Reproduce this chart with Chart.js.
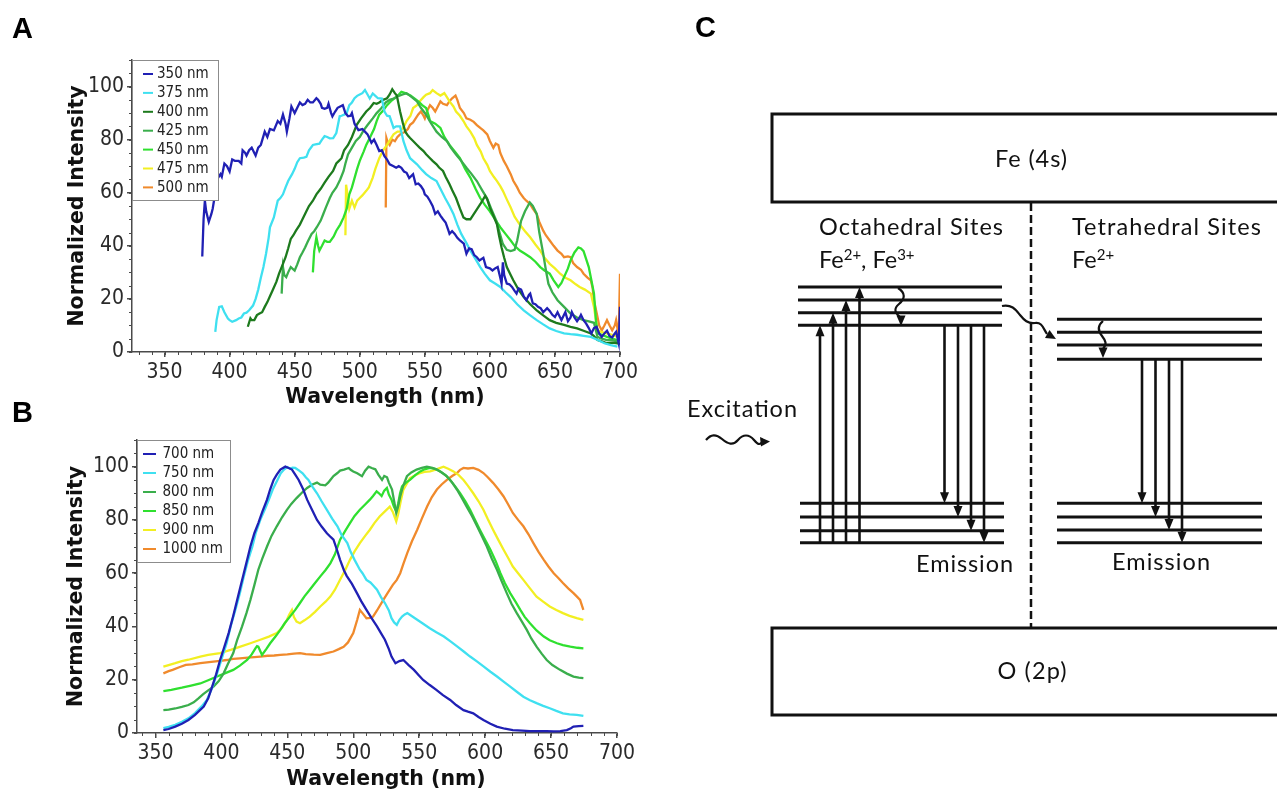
<!DOCTYPE html>
<html>
<head>
<meta charset="utf-8">
<script src="https://cdn.jsdelivr.net/npm/chart.js@4.4.1/dist/chart.umd.min.js"></script>
<style>
html, body { margin: 0; padding: 0; background: #fff; overflow: hidden; }
#page { position: relative; width: 1277px; height: 791px; }
canvas { position: absolute; left: 0; }
#chartA { top: 0; }
#chartB { top: 420px; }
#diagram { position: absolute; left: 0; top: 0; }
</style>
</head>
<body>
<div id="page">
  <canvas id="chartA" width="660" height="410"></canvas>
  <canvas id="chartB" width="660" height="372"></canvas>
  <svg id="diagram" width="1277" height="791"></svg>
</div>
<script>
// ---- Panel A: emission spectra for each excitation wavelength ----
const labelsA = ['350 nm', '375 nm', '400 nm', '425 nm', '450 nm', '475 nm', '500 nm'];
const xTicksA = [350, 400, 450, 500, 550, 600, 650, 700];
const yTicks = [0, 20, 40, 60, 80, 100];

const excA350 = [[379,36],[380,50],[381,57],[382,53],[384,49],[386,52],[387,54],[389,60],[391,65.5],[393,67],[394,66],[396,71],[398,70],[400,68],[402,72.5],[404,72],[407,72],[409,71],[410,76],[412,75],[413,74],[415,76],[417,77],[419,75],[420,74],[422,77],[424,78],[427,83],[429,81],[431,84],[434,83.5],[437,87],[439,86],[441,89.5],[443,86],[444,83],[446,88],[447.5,92.5],[449,91],[450,90],[452,92],[454,94],[456,93],[458,93.5],[460,95],[462,94],[464,94],[466.7,95.6],[468,95],[470,93.5],[471,92],[473,91.6],[475,92],[476,93.5],[478,90],[479,88.8],[481,90.5],[483,92],[485,92.5],[487,93],[489,90],[491,88.8],[493,89],[494,90],[496,86],[499,83.6],[502,84],[504,83],[506,82],[509,78.8],[511,80],[513,78],[515,75.7],[517,76],[519,73.8],[521,72.5],[523,70.7],[526,70],[528,69.4],[530,70],[532,69.4],[534,68],[536,67.5],[538,65.5],[541,67],[543,63.2],[545,63.5],[547,62.5],[549,61],[550,59.4],[552,58.5],[554,56.9],[556,55],[558,52],[560,53],[562,51.4],[564,50],[566,48.8],[568,46],[569,44.5],[571,45.5],[573,44.5],[575,43],[577,42],[580,40.8],[582,37],[584,39],[586,38.7],[588,36.5],[590,35.7],[592,34.5],[595,35.5],[597,32],[600,31.5],[602,30.7],[604,31.5],[606,32],[608,28],[609,25.8],[610,33.8],[611,29],[613,25.8],[615,25.5],[617,24.5],[619,23],[620.5,22],[622,24],[624,23.5],[626,21],[628,19.5],[630,21.5],[631,22],[633,18.3],[635,18],[637,17],[639,16.5],[641,15],[644,16.5],[646,15.5],[648,14],[650,13.2],[652,15],[655,12],[657,14],[658,15],[660,11.6],[662,13],[663,15],[665,13],[667,11.6],[669,13],[670,14],[672,12],[674,10.7],[676,9],[678,7],[680,9],[682,9.5],[684,7],[686,5.7],[688,7],[690,8],[692,6],[694,5.5],[696,7],[697,7.6],[699,3.3],[700,17]];
const excA375 = [[389,7.6],[390,12],[392,17],[394,17.2],[396,15],[398.7,12.6],[400,12],[402,11.4],[405,12],[407,12.6],[409,13],[411,14.5],[413,14.8],[415,15.7],[418,17.5],[420,20],[422,23.5],[424,28],[426,32],[428,37],[430,43],[431,47],[434,50.7],[437,57],[439,58],[441,59.4],[443,62],[445,64.4],[448,67],[450,69],[452,71.5],[454,73],[457,73.2],[459,73.5],[461,76],[464,78],[466,78.2],[469,78.5],[471,80],[473,81.3],[475,81],[477,80.5],[479.6,80.6],[482,82.5],[484.6,88.8],[486,89],[488,89.4],[490,90],[492,93],[494,94],[496,95.6],[498,96.5],[500,97],[502,97.5],[504,98.7],[506,97],[507.7,95.5],[510,97.4],[512,96.5],[514,95.6],[517,95.5],[519,90.6],[521,89],[523,88.8],[526,84.4],[528,85],[531,85],[533.6,79.4],[536,76],[538.7,73],[541,72],[544,70.7],[548,68.5],[551,67],[555,65.5],[559,64.4],[562,61.5],[565.6,58],[569,55],[572,52],[575,48],[578,44.5],[582,41],[585,38.2],[589,35],[592.6,32],[596,29.5],[600,27],[604,25.8],[608,24.5],[612,22.5],[616,20.7],[621,18],[626,15.7],[631,13.8],[636,12],[641,10.4],[646,8.9],[651,7.9],[657,7],[662,6.7],[667,6.5],[672,6.1],[677.6,5.7],[683,4.5],[688,3.3],[693,2.6],[698,2]];
const excA400 = [[414,9.5],[416,12.7],[417,12],[419,12],[421,13.9],[423,14.5],[425,15],[427,17],[429,18.8],[431,21],[433,23.2],[436,26.5],[438,29.5],[440,32],[443,35.7],[445,39],[447,42.6],[449,44],[451,45.7],[454,48],[456,50],[459,53],[461,55],[464,57],[466.7,59.4],[470,61.5],[473,63.8],[476,66],[479.5,68.2],[482,71],[484,72],[486,73],[488,76],[491,78],[494,81],[497.7,85.6],[501,88],[505,90.6],[508,92],[510.7,93.8],[513,93.5],[515,94],[518,95],[521,95.6],[523,97],[525,99],[527,97.5],[528.5,96.6],[530,93],[531,90.6],[533,86.5],[535,83],[537,81.5],[538.7,80.6],[541,79.5],[544,78],[546,77],[549,75.7],[551,74.5],[554,73],[556,72],[559,70.7],[561,69.5],[564,68.2],[566,66],[569,63.2],[571,61],[574,58],[577,54],[579.7,50.7],[582,50],[585,50],[587,51.5],[590,53.7],[593,56],[596.4,58.8],[598,57.5],[600,54.4],[603,51],[605.5,48],[607,44],[609,39.4],[611,35.5],[613,32],[616,29],[618,27],[622,23.5],[626,20.7],[631,18],[636,15.7],[641,13.8],[646,12],[651,11],[657,10.2],[662,9.5],[667,8.9],[672,8],[677.6,7],[680,6],[682.7,4.5],[686,4],[690,3.3],[694,3.5],[698,3.3],[700,3]];
const excA425 = [[440,22],[441,32],[442,29],[443.5,28.2],[445,30],[447,32],[450,30.7],[452,33],[454,35.7],[456,37.5],[458,39.4],[460,41.5],[463,44.5],[465,45.5],[467,47],[470,49.5],[472,52],[474,54.5],[477,58],[479,60],[482,62],[485,65],[487.6,68.2],[489,71],[491,74.4],[494,77],[497,79.5],[500,81],[503,83.5],[506,85.5],[510,88],[513,90],[516,91.5],[520,94],[523,95],[526,95.5],[530,96.5],[533,97],[536,97.5],[540,96],[544,94.4],[547,92],[551,89.4],[555,86],[559,83],[563,81],[567,79.4],[570,77],[574,74.4],[578,72],[582,69.4],[586,67],[590,64.4],[594,61],[597.7,58],[601,54],[605,49.4],[608,44],[610,40.7],[613,38.5],[616,38],[619,38.5],[621,42],[624,49.4],[627,53],[630.7,56.3],[633,55],[636,52],[638,45],[641,37],[643,31],[645,25.7],[648,22.5],[652,19.5],[657,17],[662,14.5],[667,13],[672,12],[676,11.5],[680,11],[682.7,5.7],[686,5],[690,4.5],[694,4.5],[698,4],[700,5]];
const excA450 = [[464,30],[465,38],[466.7,43.2],[468,40],[469,38.2],[471,40],[473,42],[475,41.5],[477,41.5],[480,43.5],[482,45.7],[485,48],[487.6,50.7],[490,54],[492,59.4],[494,62],[496,65.5],[498,69],[500,72],[503,75.5],[505,78],[507.7,80.6],[511,84],[513,87],[515,89.4],[518,91],[521,93],[524,94.5],[527,95.6],[530,97],[532,98],[535,97.5],[539,96.6],[542,95.5],[545,94.4],[548,93],[551,91.9],[553,89],[554,87],[558,86],[562,84.4],[565,81],[569,78],[573,75.5],[577,73],[581,69],[585,65.7],[589,61.5],[592.6,58],[596,55.5],[600,53],[604,50],[608,47],[612,44.5],[616,42],[619,40],[623,38.2],[627,37],[631,35.7],[635,34],[638.7,32],[642,30.7],[646,29.5],[649,27],[652.6,24.5],[655,26],[657,28.2],[660,31.5],[662,34.5],[665,37.5],[668,39.4],[670,39],[672,38],[674,35],[676,32],[678,27],[680,22],[681.5,12],[682.7,7],[686,6.5],[690,5.7],[694,5],[698,4.5],[700,4.5]];
const excA475 = [[489,44],[489.5,63],[491,58],[492,54],[494,57],[496,54.4],[498,57],[500,58],[502,59],[505,60.7],[507,62],[510,65.7],[512,69],[515,73],[518,76],[521,78],[524,80.5],[526,82],[529,83],[531,83],[534,85],[536,87],[539,89],[541,91.9],[544,93],[546,94.4],[549,96],[551,96.9],[554,97.5],[556,98.7],[559,97.5],[562,96.6],[565,97.5],[567,96],[569,94.4],[572,92.5],[574,90.6],[577,89],[579.7,87],[582,85],[585,83],[588,80.5],[590,78],[593,75.5],[595,73],[598,70.5],[600,68.2],[603,66],[605.5,64.4],[608,62.5],[610,60.7],[613,57.5],[616,54.4],[619,51],[623,48],[627,45.5],[631,43.2],[635,40.5],[638.7,38.2],[642,35.5],[646,33.2],[650,31.5],[654,29.5],[658,28],[662,27],[666,25.5],[669,24.5],[673,23.5],[677.6,22],[680,17],[681.5,12],[682.7,8.2],[686,7.5],[690,7],[694,6.5],[698,5.7],[700,6]];
const excA500 = [[520,54.4],[520.5,80.6],[521.5,79],[523,78],[525,80],[527,79.4],[529,81],[531,82],[533,82.5],[535,83],[537,84],[538.7,85.6],[541,86.5],[543,88],[545,89.5],[547,90.6],[549,89],[550,88],[552,91],[554,93],[556,92],[558,90.6],[560,92.5],[562,94.4],[564,93.5],[567,93],[569,94.5],[571,95.6],[573.6,96.6],[575,95],[577,91.9],[580,90],[582,88],[585,87.5],[587.6,86.7],[590,85.5],[592.6,84.4],[595,83.5],[598,82],[600,79.5],[602.7,76.9],[604.5,78.5],[606.5,78],[608,75],[610.7,72],[613,70],[616,67],[618,64.5],[621,62],[623,60],[626,58],[628,57],[631,55.7],[633,54],[636,52],[638,49],[641,45.7],[643,44],[646,42],[649,40],[652,38.2],[655,37],[657,35.7],[660,36],[662,35.7],[664,33.5],[667,32],[670,31],[672,29.5],[675,28],[677.6,27],[679,24],[680,19.5],[682.7,13.2],[684,10],[686,8.2],[688,10],[690,12],[692,10],[694,8.2],[696,10],[697,12],[698,9],[699,5.7],[700,29.5]];

// ---- Panel B ----
const labelsB = ['700 nm', '750 nm', '800 nm', '850 nm', '900 nm', '1000 nm'];
const xTicksB = [350, 400, 450, 500, 550, 600, 650, 700];

const emB700 = [[356,1.1],[360,1.5],[365,2.4],[370,3.5],[375,4.9],[380,6.8],[386.6,9.9],[390,13],[393,17.4],[396,22],[399,27.4],[402,32],[405.5,37.5],[409,44],[412,50],[415,56],[417,60],[420,66],[422,70],[425,75],[428,78.8],[431,83],[434.6,87.6],[437,91.5],[439.6,95],[442,97],[444.7,98.9],[448.5,100],[451,99.5],[453.5,98.9],[456,97],[458.6,95],[462,91.5],[465,87.6],[469,83.5],[472.5,80],[476,77.5],[480,75],[483,73.5],[485,72.6],[487.6,68.8],[490,65],[493,61],[495,59],[499,56],[502.8,52.5],[506,49.5],[510,46.2],[514,43],[518,40],[521,37.5],[524,35],[527,31.5],[529,28.7],[532,26.2],[535,27],[538,27.4],[542,25.5],[546,23.7],[550,21.5],[553,19.9],[558,18],[563,16.2],[568,14.2],[573.5,12.4],[578,10.5],[583.6,8.6],[587,8],[591,7.4],[595,6],[598.7,4.9],[604,3.5],[608.8,2.4],[615,1.6],[621,1.1],[628,0.9],[634,0.7],[640,0.7],[646.7,0.7],[652,0.6],[657,0.7],[662,1.1],[665,1.8],[667,2.4],[671,2.6],[674.5,2.7]];
const emB750 = [[356,1.8],[360,2.3],[365,3.1],[370,4.2],[375,5.5],[380,7.5],[385,10],[389,12.4],[393,17],[396.7,22.4],[400,27.5],[404,33.7],[407,40],[410.6,46.2],[414,52.5],[417,58.8],[420,64.5],[423.5,70],[426,75],[429.5,80],[433,84],[436,87.6],[439,91.5],[442.5,95],[445,97.5],[447.5,98.9],[450,99.8],[452,99.3],[454,99.6],[456,99.5],[459,98.5],[461.6,97.5],[464,96],[466,95],[469,92.5],[472.5,90],[476,87],[480,83.8],[484,80.5],[488,77.6],[491,74.5],[495.5,71.3],[498,68],[501,65],[505,61.3],[507,60],[510,57.5],[513,56.5],[515,55.5],[518,53.8],[521,51],[524,48.8],[527,46],[529,43.1],[531,41.5],[533,40.6],[535,42.5],[537,43.7],[539,44.5],[541,45],[544,44],[548.5,42.5],[553,41],[558,39.3],[563,37.8],[568.7,36.2],[574,34.3],[579,32.4],[584,30.5],[588.6,28.7],[594,26.8],[599,24.9],[604,23],[609,21.2],[614,19.3],[619,17.4],[624,15.5],[629,13.6],[634,12.3],[639,11.2],[644,10.2],[649,9.3],[654,8.3],[659,7.4],[664,7],[669.5,6.8],[674.5,6.4]];
const emB800 = [[356,8.6],[360,8.8],[365,9.2],[370,9.8],[375,10.5],[379,11.5],[382.6,13],[386,14.5],[390,16],[394,17.4],[398,19.5],[401.7,22.4],[405,26],[409,30],[412,35],[415.7,40],[419,45],[422,50],[425,55.5],[428,61.3],[431,65.5],[434.6,70],[438,74],[442,77.6],[446,81],[449.7,83.8],[453,86],[457,88.2],[461,90.2],[465,92],[469,93.3],[472.5,94],[475,93.2],[478.8,93],[481,94],[482.6,95],[485,96.5],[488,97.6],[490,98.5],[493,98.9],[496.6,99.5],[498,98.8],[500,98.2],[503,97.5],[506.6,96.4],[509,98.5],[511.6,100],[514,99.5],[516.7,99],[519,97],[521.8,95],[523.5,96.5],[525.6,96],[527,94],[529.4,91.4],[531,87],[532.6,82.6],[534,85],[535.6,88.8],[538,93],[540.7,96.4],[544,97.8],[548,98.9],[552,99.5],[555.8,100],[560,99.5],[563.4,98.9],[567,97.8],[571,96.4],[575,94],[578.6,91.4],[582,88.5],[586,85],[590,81.5],[593.9,77.6],[597.5,74],[601.3,70],[605,65.5],[609,61.3],[612.5,57],[616.4,52.5],[620,48.5],[624,45],[628,41.7],[631.6,38.7],[635,35.5],[639,32.4],[643,29.7],[646.7,27.4],[651,25.5],[656.8,23.7],[662,22.3],[667,21.2],[671,20.8],[674.5,20.6]];
const emB850 = [[356,15.7],[362,16.2],[370,17],[377,17.8],[384,18.6],[390,19.8],[396.7,21.2],[403,22.5],[409,23.7],[414,25.3],[419.5,27.4],[423,29.5],[425.8,31.8],[427,32.6],[428,32.4],[430.8,29.3],[434,31.5],[437,33.7],[441,36.2],[444.7,38.7],[448,41.2],[452,43.7],[456,46.2],[459.6,48.8],[463,51.3],[467,53.8],[471,56.3],[475,58.8],[479,61.2],[482.6,63.7],[486,67],[490,72.6],[494,76],[497.5,78.8],[501,81.5],[505,83.8],[509,85.8],[512.6,87.6],[515,89],[517.7,90.7],[519.5,90],[521.5,89],[523.5,91],[525.5,92],[527,89.5],[529,87.6],[530.8,85],[532.6,83.2],[534,86],[535.5,90],[537,92.6],[540,94],[543,95],[547,96.8],[550.8,98.2],[554,99],[558,99.5],[562,99.2],[566,98.2],[570,96.8],[573.5,95],[577,92.8],[581,90],[585,87],[588.6,83.8],[592,80.3],[596,76.3],[600,72.5],[604,68.8],[608,64.5],[611.6,60],[615,56.2],[619,52.5],[623,49.3],[626.7,46.2],[630,43.6],[634,41.2],[639,38.5],[644.5,36.2],[649,34.8],[654.5,33.7],[659,33],[664.6,32.4],[670,32],[674.5,31.8]];
const emB900 = [[356,24.9],[360,25.5],[365,26.2],[370,27],[375,27.5],[384,28.7],[390,29.3],[399,30],[407,31.2],[414.4,32.4],[422,33.7],[429.5,35],[436,36.2],[442,37.5],[446,39.5],[449.7,42.5],[451.5,44.5],[453.5,46.2],[455,43.5],[457,41.8],[459.6,41.2],[463,42.3],[467,43.7],[471,45.5],[475,47.5],[479,49.3],[482.6,51.2],[486,53.7],[490,57.5],[494,61.3],[497.5,65],[501,68.2],[505,71.3],[509,74],[512.6,76.3],[516,78.8],[520,81.3],[524,83.2],[527.7,85],[530,83],[532.6,79.4],[534,82],[536,87],[538,91.4],[540.5,93.5],[543,95.7],[547,96.8],[550.8,97.6],[554,98],[558.3,98.2],[563,99],[568.4,100],[572,99.2],[576,98.2],[580,96.8],[583.6,95],[587,92.8],[591,90],[595,87],[598.7,83.8],[602,80.3],[606,76.3],[610,72.5],[614,68.8],[617.5,65.7],[621,62.5],[625,60],[629,57.5],[634,54.3],[639,51.2],[644,49.3],[649,47.5],[654,46.2],[659,45],[664,44],[669.5,43.1],[674.5,42.5]];
const emB1000 = [[356,22.4],[360,23.2],[363,23.7],[368,24.7],[373,25.6],[378,25.8],[384,26.2],[389,26.5],[394,26.8],[399,27.1],[404,27.4],[409,27.8],[414,28],[420,28.3],[425,28.5],[429.5,28.7],[435,29],[440,29.1],[444.7,29.3],[450,29.5],[455,29.8],[459.6,30],[464,29.6],[470,29.4],[475,29.3],[480,30],[485,30.6],[489,31.5],[492.7,32.4],[496,34],[500,37.5],[503,42.5],[505,46.2],[507,45],[510,43.1],[513,43.2],[515,43.7],[518,46],[522.8,50],[526,52.5],[530,55.6],[533,57.5],[535.6,60],[538,63.5],[541,67.6],[544.5,72],[548.5,76.3],[552,80.5],[556,85],[559.5,88.5],[563.4,91.4],[567,93.3],[571,95],[575,96.5],[578.6,97.6],[581,98.8],[583.6,99.5],[587,99.3],[591,99.5],[595,98.8],[598.7,97.6],[602,96],[606,93.9],[610,91.5],[614,88.8],[617.5,85.8],[621,82.6],[625,80],[629,77.6],[633,74.5],[636.6,71.3],[640.5,68],[644.5,65],[648,62.5],[652,60],[655.5,58.2],[659,56.3],[663,54.3],[667,52.5],[670,51],[672,50],[674.5,46.2]];

const paletteA = ['#2020b4', '#3fe0f0', '#1d7a1d', '#3aae4c', '#2fe02f', '#f2ef22', '#f08a2c'];
const paletteB = ['#2020b4', '#3fe0f0', '#3aae4c', '#2fe02f', '#f2ef22', '#f08a2c'];

const tickFont = { family: "'DejaVu Sans Condensed', 'DejaVu Sans', sans-serif", size: 21 };
const titleFont = { family: "'DejaVu Sans', Verdana, sans-serif", size: 20.5, weight: 'bold' };
const axisColor = '#4a4a4a';

// minor tick marks between the labelled ones
const minorTicks = {
    id: 'minorTicks',
    afterDraw(chart, args, opts) {
        const { ctx } = chart;
        const xs = chart.scales.x, ys = chart.scales.y;
        ctx.save();
        ctx.strokeStyle = axisColor;
        ctx.lineWidth = 1;
        for (let v = Math.ceil(xs.min / opts.xStep) * opts.xStep; v <= xs.max; v += opts.xStep) {
            const px = Math.round(xs.getPixelForValue(v)) + 0.5;
            ctx.beginPath(); ctx.moveTo(px, xs.top); ctx.lineTo(px, xs.top + 3); ctx.stroke();
        }
        for (let v = 0; v <= ys.max; v += opts.yStep) {
            const py = Math.round(ys.getPixelForValue(v)) + 0.5;
            ctx.beginPath(); ctx.moveTo(ys.right, py); ctx.lineTo(ys.right - 3, py); ctx.stroke();
        }
        // x-axis title, set a little right of the plot centre as in the original
        ctx.font = "bold 20.5px 'DejaVu Sans', Verdana, sans-serif";
        ctx.fillStyle = '#111';
        ctx.textAlign = 'center';
        ctx.textBaseline = 'middle';
        ctx.fillText('Wavelength (nm)', (xs.left + xs.right) / 2 + opts.titleShift, xs.bottom - 12.3);
        ctx.restore();
    }
};

// boxed legend sitting in the top-left corner of the plot
const insetLegend = {
    id: 'insetLegend',
    afterDraw(chart, args, opts) {
        const { ctx, chartArea } = chart;
        const x0 = chartArea.left, y0 = chartArea.top;
        ctx.save();
        ctx.fillStyle = '#fff';
        ctx.fillRect(x0, y0, opts.width, opts.height);
        ctx.strokeStyle = '#8c8c8c';
        ctx.lineWidth = 1;
        ctx.strokeRect(x0 + 0.5, y0 + 0.5, opts.width, opts.height);
        ctx.font = "15px 'DejaVu Sans Condensed', 'DejaVu Sans', sans-serif";
        ctx.textBaseline = 'middle';
        chart.data.datasets.forEach((ds, i) => {
            const y = y0 + opts.firstRow + i * opts.rowGap;
            ctx.strokeStyle = ds.borderColor;
            ctx.lineWidth = 2;
            ctx.beginPath(); ctx.moveTo(x0 + opts.sampleFrom, y); ctx.lineTo(x0 + opts.sampleTo, y); ctx.stroke();
            ctx.fillStyle = '#222';
            ctx.fillText(ds.label, x0 + opts.textX, y + 0.5);
        });
        ctx.restore();
    }
};

function makeChart(id, series, labels, palette, xMin, xTicks, pad, yWidth, xHeight, legend) {
    return new Chart(document.getElementById(id), {
        type: 'line',
        data: {
            datasets: series.map((pts, i) => ({
                label: labels[i],
                data: pts.map(p => ({ x: p[0], y: p[1] })),
                borderColor: palette[i],
                borderWidth: 2.3,
                pointRadius: 0,
                tension: 0
            }))
        },
        options: {
            responsive: false,
            animation: false,
            layout: { padding: pad },
            plugins: {
                legend: { display: false },
                tooltip: { enabled: false },
                minorTicks: { xStep: 10, yStep: 5, titleShift: 9 },
                insetLegend: legend
            },
            scales: {
                x: {
                    type: 'linear',
                    min: xMin,
                    max: 700,
                    afterBuildTicks: s => { s.ticks = xTicks.map(v => ({ value: v })); },
                    afterFit: s => { s.height = xHeight; },
                    grid: { drawOnChartArea: false, tickLength: 5, color: axisColor, lineWidth: 1.5 },
                    border: { color: axisColor, width: 1.5 },
                    ticks: { font: tickFont, color: '#2a2a2a', padding: 3, maxRotation: 0, autoSkip: false },
                    title: { display: false }
                },
                y: {
                    min: 0,
                    max: 110,
                    afterBuildTicks: s => { s.ticks = yTicks.map(v => ({ value: v })); },
                    afterFit: s => { s.width = yWidth; },
                    grid: { drawOnChartArea: false, tickLength: 5, color: axisColor, lineWidth: 1.5 },
                    border: { color: axisColor, width: 1.5 },
                    ticks: { font: tickFont, color: '#2a2a2a', padding: 3 },
                    title: { display: true, text: 'Normalized Intensity', font: titleFont, color: '#111', padding: { top: 4, bottom: 4 } }
                }
            }
        },
        plugins: [minorTicks, insetLegend]
    });
}

makeChart('chartA',
    [excA350, excA375, excA400, excA425, excA450, excA475, excA500],
    labelsA, paletteA, 325, xTicksA,
    { left: 61, top: 60, right: 40, bottom: 0 }, 71, 58,
    { width: 86, height: 140, firstRow: 14, rowGap: 18.9, sampleFrom: 11, sampleTo: 21, textX: 25 });

makeChart('chartB',
    [emB700, emB750, emB800, emB850, emB900, emB1000],
    labelsB, paletteB, 336, xTicksB,
    { left: 60, top: 20, right: 43, bottom: 0 }, 77, 59,
    { width: 93, height: 122, firstRow: 14, rowGap: 19, sampleFrom: 6, sampleTo: 19, textX: 25.5 });

// ---- Panel C: energy level diagram ----
const NS = 'http://www.w3.org/2000/svg';
const svg = document.getElementById('diagram');
function el(tag, attrs, text, parent) {
    const e = document.createElementNS(NS, tag);
    for (const k in attrs) e.setAttribute(k, attrs[k]);
    if (text !== undefined) e.textContent = text;
    (parent || svg).appendChild(e);
    return e;
}
const ink = '#111';
const diaFont = "Lato, 'Open Sans', sans-serif";
const diaSize = 23.5;

// panel letters
[['A', 12, 38], ['B', 12, 422], ['C', 695, 37]].forEach(([t, x, y]) =>
    el('text', { x, y, 'font-family': "'Liberation Sans', Arial, sans-serif", 'font-weight': 'bold', 'font-size': 29, fill: '#000' }, t));

// bands
el('rect', { x: 772, y: 114, width: 540, height: 88, fill: 'none', stroke: ink, 'stroke-width': 3 });
el('rect', { x: 772, y: 628, width: 540, height: 87, fill: 'none', stroke: ink, 'stroke-width': 3 });
el('text', { x: 1031, y: 167, 'text-anchor': 'middle', 'font-family': diaFont, 'font-size': diaSize, fill: ink, textLength: 72, lengthAdjust: 'spacing' }, 'Fe (4s)');
el('text', { x: 1032, y: 679, 'text-anchor': 'middle', 'font-family': diaFont, 'font-size': diaSize, fill: ink, textLength: 69, lengthAdjust: 'spacing' }, 'O (2p)');
el('line', { x1: 1031, y1: 203, x2: 1031, y2: 627, stroke: ink, 'stroke-width': 2.5, 'stroke-dasharray': '8 4' });

// site labels
el('text', { x: 819, y: 235, 'font-family': diaFont, 'font-size': diaSize, fill: ink, textLength: 184, lengthAdjust: 'spacing' }, 'Octahedral Sites');
el('text', { x: 1072, y: 235, 'font-family': diaFont, 'font-size': diaSize, fill: ink, textLength: 189, lengthAdjust: 'spacing' }, 'Tetrahedral Sites');
function ionLabel(x, parts) {
    const t = el('text', { x, y: 268, 'font-family': diaFont, 'font-size': diaSize, fill: ink });
    let shift = 0;
    parts.forEach(([s, sup]) => {
        const want = sup ? -8 : 0;
        const attrs = { dy: want - shift };
        if (sup) attrs['font-size'] = 15;
        el('tspan', attrs, s, t);
        shift = want;
    });
}
ionLabel(819, [['Fe', false], ['2+', true], [', Fe', false], ['3+', true]]);
ionLabel(1072, [['Fe', false], ['2+', true]]);

// energy levels
const octUpper = [287, 300, 312.7, 325.3], octLower = [503.3, 517, 530.7, 542.7];
const tetUpper = [319.3, 332.3, 345, 359.3], tetLower = [503.3, 517, 530, 542.7];
octUpper.forEach(y => el('line', { x1: 798, y1: y, x2: 1002, y2: y, stroke: ink, 'stroke-width': 3 }));
octLower.forEach(y => el('line', { x1: 800, y1: y, x2: 1004, y2: y, stroke: ink, 'stroke-width': 3 }));
tetUpper.forEach(y => el('line', { x1: 1057, y1: y, x2: 1262, y2: y, stroke: ink, 'stroke-width': 3 }));
tetLower.forEach(y => el('line', { x1: 1057, y1: y, x2: 1262, y2: y, stroke: ink, 'stroke-width': 3 }));

function arrow(x, from, tip) {
    const dir = tip < from ? -1 : 1;
    el('line', { x1: x, y1: from, x2: x, y2: tip - dir * 8, stroke: ink, 'stroke-width': 2.6 });
    el('polygon', { points: `${x},${tip} ${x - 4.5},${tip - dir * 11} ${x + 4.5},${tip - dir * 11}`, fill: ink });
}
[820, 833, 846, 859.5].forEach((x, i) => arrow(x, 542.7, octUpper[3 - i]));
[944.5, 958, 971, 984].forEach((x, i) => arrow(x, 325.3, octLower[i]));
[1142, 1155.5, 1169, 1182].forEach((x, i) => arrow(x, 359.3, tetLower[i]));

// wavy arrows
const wavy = { fill: 'none', stroke: ink, 'stroke-width': 2.2 };
el('path', Object.assign({ d: 'M898 288 C906 293 905 299 899 304 S895 313 901 318' }, wavy));
el('polygon', { points: '901,326 896.5,315.5 905.5,315.5', fill: ink });
el('path', Object.assign({ d: 'M1103 321 C1097 326 1098 331 1102 336 S1107 344 1103 349' }, wavy));
el('polygon', { points: '1103,358 1098.5,347.5 1107.5,347.5', fill: ink });
el('path', Object.assign({ d: 'M1002 306 C1012 304 1016 310 1020 315 S1028 324 1035 323 S1043 328 1047 334' }, wavy));
el('polygon', { points: '1056,339 1045,338 1049.5,330', fill: ink });
el('path', Object.assign({ d: 'M706 440 C711 434 716 434 722 439 S733 446 738 440 S749 434 754 440 S760 444 763 442' }, wavy));
el('polygon', { points: '770,441.5 760,437 761,446.5', fill: ink });

el('text', { x: 687, y: 417, 'font-family': diaFont, 'font-size': diaSize, fill: ink, textLength: 110, lengthAdjust: 'spacing' }, 'Excitation');
el('text', { x: 916, y: 571.5, 'font-family': diaFont, 'font-size': diaSize, fill: ink, textLength: 97, lengthAdjust: 'spacing' }, 'Emission');
el('text', { x: 1112, y: 570, 'font-family': diaFont, 'font-size': diaSize, fill: ink, textLength: 98, lengthAdjust: 'spacing' }, 'Emission');
</script>
</body>
</html>
